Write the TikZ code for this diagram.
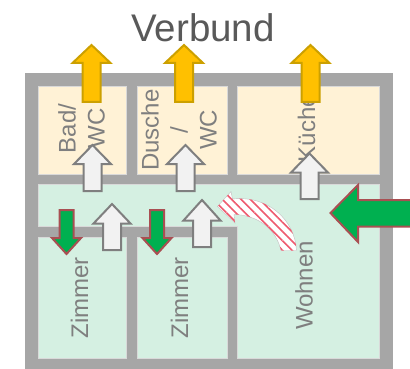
\documentclass[tikz,border=0pt]{standalone}
\usepackage{fontspec}
\setmainfont{Liberation Sans}
\usetikzlibrary{patterns.meta}
\definecolor{wallgray}{HTML}{A6A6A6}
\definecolor{roomyellow}{HTML}{FFF2D6}
\definecolor{roomgreen}{HTML}{D5F0E2}
\definecolor{txtgray}{HTML}{7F7F7F}
\definecolor{titlegray}{HTML}{595959}
\definecolor{exhaustfill}{HTML}{FFC000}
\definecolor{exhaustline}{HTML}{CCA000}
\definecolor{flowfill}{HTML}{F2F2F2}
\definecolor{supplyfill}{HTML}{00B050}
\definecolor{supplyline}{HTML}{A94F52}
\definecolor{hatchred}{HTML}{EE5A6E}
\tikzset{
  wall/.style={fill=wallgray,draw=none},
  wetroom/.style={fill=roomyellow,draw=black!15,line width=.4pt},
  dryroom/.style={fill=roomgreen,draw=black!15,line width=.4pt},
  roomlabel/.style={text=txtgray,rotate=90,inner sep=0pt,font=\fontsize{24}{29}\selectfont,align=center},
  titlelabel/.style={text=titlegray,inner sep=0pt,font=\fontsize{38.5}{45}\selectfont},
  exhaust/.style={fill=exhaustfill,draw=exhaustline,line width=2pt,line join=miter},
  flow/.style={fill=flowfill,draw=txtgray,line width=2pt,line join=miter},
  supply/.style={fill=supplyfill,draw=supplyline,line width=2pt,line join=miter},
  overflowbase/.style={fill=white,draw=black!25,line width=.4pt},
  overflowhatch/.style={pattern={Lines[angle=-45,distance=6.6pt,line width=1.6pt]},pattern color=hatchred},
}
% vertical block arrow: style, tip x, tip y, head half width, shaft half width, head base y, tail y
\newcommand{\vblock}[7]{\draw[#1] (#2,#3) -- (#2+#4,#6) -- (#2+#5,#6) -- (#2+#5,#7) -- (#2-#5,#7) -- (#2-#5,#6) -- (#2-#4,#6) -- cycle;}
\newcommand{\overflowpath}[1]{\path[#1] (217.5,206.5) -- (231,191.5) -- (232.5,199)
  .. controls (268,195) and (295,220) .. (296.5,250.5) -- (281,250.5)
  .. controls (276,229) and (258,215) .. (234,214.5) -- (235,223) -- cycle;}
\begin{document}
\begin{tikzpicture}[x=1pt,y=-1pt]
\useasboundingbox (0,0) rectangle (410,369);
\begin{scope}
\clip (0,0) rectangle (410,369);
\fill[white] (0,0) rectangle (410,369);
\path[wall] (24.5,73) rectangle (393,369);
\path[wetroom] (38,86) rectangle (126,174);
\path[wetroom] (137,86) rectangle (227,174);
\path[wetroom] (237,86) rectangle (379,174);
\path[dryroom] (38,184) -- (379,184) -- (379,358) -- (237,358) -- (237,226) -- (38,226) -- cycle;
\path[dryroom] (38,237) rectangle (126,358);
\path[dryroom] (137,237) rectangle (227,358);
\node[titlelabel] (title) at (203,28) {Verbund};
\node[roomlabel] (bad) at (81.5,128.5) {Bad/\\WC};
\node[roomlabel] (dusche) at (179,130) {Dusche\\/\\WC};
\node[roomlabel,anchor=base] (kueche) at (315,128) {Küche};
\node[roomlabel] (zimmerA) at (79.5,298) {Zimmer};
\node[roomlabel] (zimmerB) at (179.5,298) {Zimmer};
\node[roomlabel,anchor=base] (wohnen) at (312.5,285.5) {Wohnen};
\vblock{exhaust}{91.5}{45}{19}{9}{63}{102}
\vblock{exhaust}{184}{45}{19}{9}{63}{102}
\vblock{exhaust}{310.5}{45}{19}{9}{63}{102}
\vblock{flow}{92.5}{145}{18.5}{9}{164}{191}
\vblock{flow}{185.5}{145}{18.5}{9}{164}{191}
\vblock{flow}{309.5}{153.5}{18.5}{9}{172.5}{199}
\vblock{flow}{112}{204}{18.5}{9}{223.5}{250}
\vblock{flow}{202}{200}{18.5}{9}{220.5}{247}
\vblock{supply}{66.5}{254}{14.5}{7}{238}{210}
\vblock{supply}{157}{254}{14.5}{7}{238}{210}
\draw[supply] (330.5,213) -- (358,185) -- (358,200) -- (420,200) -- (420,226.5) -- (358,226.5) -- (358,242) -- cycle;
\overflowpath{overflowbase}
\overflowpath{overflowhatch}
\end{scope}
\end{tikzpicture}
\end{document}
